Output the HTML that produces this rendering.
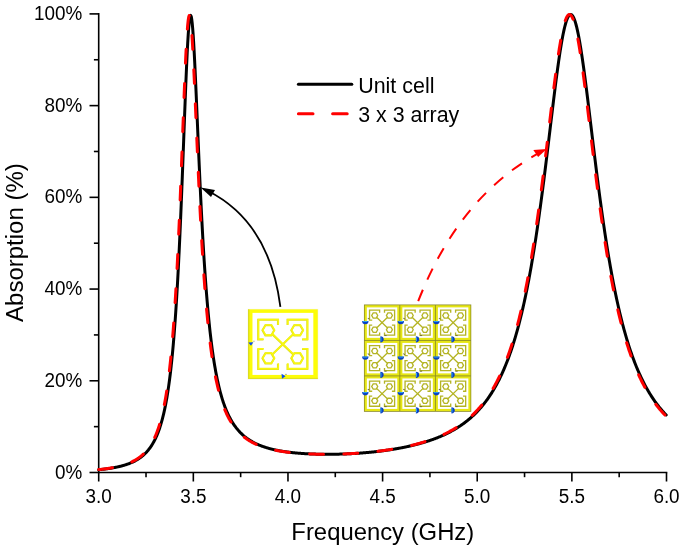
<!DOCTYPE html>
<html><head><meta charset="utf-8"><title>Absorption</title>
<style>
html,body{margin:0;padding:0;background:#fff;}
body{width:685px;height:551px;overflow:hidden;}
svg{display:block;will-change:transform;}
text{font-family:"Liberation Sans",sans-serif;fill:#000;}
</style></head><body>
<svg width="685" height="551" viewBox="0 0 685 551">
<rect width="685" height="551" fill="#fff"/>
<g stroke="#000" stroke-width="1.6" fill="none" stroke-linecap="butt">
<path d="M98.7,13.1 V473.3"/>
<path d="M97.9,472.5 H667.3"/>
<path d="M89.50,472.50 H98.7"/>
<path d="M93.90,426.64 H98.7"/>
<path d="M89.50,380.78 H98.7"/>
<path d="M93.90,334.92 H98.7"/>
<path d="M89.50,289.06 H98.7"/>
<path d="M93.90,243.20 H98.7"/>
<path d="M89.50,197.34 H98.7"/>
<path d="M93.90,151.48 H98.7"/>
<path d="M89.50,105.62 H98.7"/>
<path d="M93.90,59.76 H98.7"/>
<path d="M89.50,13.90 H98.7"/>
<path d="M98.70,472.5 V481.50"/>
<path d="M146.02,472.5 V477.20"/>
<path d="M193.33,472.5 V481.50"/>
<path d="M240.65,472.5 V477.20"/>
<path d="M287.97,472.5 V481.50"/>
<path d="M335.28,472.5 V477.20"/>
<path d="M382.60,472.5 V481.50"/>
<path d="M429.92,472.5 V477.20"/>
<path d="M477.23,472.5 V481.50"/>
<path d="M524.55,472.5 V477.20"/>
<path d="M571.87,472.5 V481.50"/>
<path d="M619.18,472.5 V477.20"/>
<path d="M666.50,472.5 V481.50"/>
</g>
<g font-size="18.9" text-anchor="end">
<text transform="translate(82.4,478.50) scale(1,1.05)">0%</text>
<text transform="translate(82.4,386.78) scale(1,1.05)">20%</text>
<text transform="translate(82.4,295.06) scale(1,1.05)">40%</text>
<text transform="translate(82.4,203.34) scale(1,1.05)">60%</text>
<text transform="translate(82.4,111.62) scale(1,1.05)">80%</text>
<text transform="translate(82.4,19.90) scale(1,1.05)">100%</text>
</g>
<g font-size="18.9" text-anchor="middle">
<text transform="translate(98.70,503.1) scale(1,1.045)">3.0</text>
<text transform="translate(193.33,503.1) scale(1,1.045)">3.5</text>
<text transform="translate(287.97,503.1) scale(1,1.045)">4.0</text>
<text transform="translate(382.60,503.1) scale(1,1.045)">4.5</text>
<text transform="translate(477.23,503.1) scale(1,1.045)">5.0</text>
<text transform="translate(571.87,503.1) scale(1,1.045)">5.5</text>
<text transform="translate(666.50,503.1) scale(1,1.045)">6.0</text>
</g>
<text transform="translate(382.8,539.7) scale(1,1.035)" font-size="23.85" text-anchor="middle">Frequency (GHz)</text>
<text transform="translate(23.3,242.6) rotate(-90) scale(1,1.035)" font-size="24" text-anchor="middle">Absorption (%)</text>
<path d="M98.70,469.73 L99.20,469.68 L99.70,469.63 L100.20,469.58 L100.70,469.53 L101.20,469.48 L101.70,469.42 L102.20,469.37 L102.70,469.31 L103.20,469.25 L103.70,469.20 L104.20,469.14 L104.70,469.07 L105.20,469.01 L105.70,468.95 L106.20,468.88 L106.70,468.82 L107.20,468.75 L107.70,468.68 L108.20,468.61 L108.70,468.54 L109.20,468.46 L109.70,468.39 L110.20,468.31 L110.70,468.23 L111.20,468.15 L111.70,468.07 L112.20,467.98 L112.70,467.89 L113.20,467.81 L113.70,467.72 L114.20,467.62 L114.70,467.53 L115.20,467.43 L115.70,467.33 L116.20,467.23 L116.70,467.13 L117.20,467.02 L117.70,466.91 L118.20,466.80 L118.70,466.69 L119.20,466.57 L119.70,466.45 L120.20,466.33 L120.70,466.21 L121.20,466.08 L121.70,465.95 L122.20,465.81 L122.70,465.67 L123.20,465.53 L123.70,465.39 L124.20,465.24 L124.70,465.09 L125.20,464.93 L125.70,464.77 L126.20,464.61 L126.70,464.44 L127.20,464.27 L127.70,464.09 L128.20,463.91 L128.70,463.73 L129.20,463.54 L129.70,463.34 L130.20,463.14 L130.70,462.93 L131.20,462.72 L131.70,462.50 L132.20,462.28 L132.70,462.05 L133.20,461.81 L133.70,461.57 L134.20,461.32 L134.70,461.06 L135.20,460.80 L135.70,460.53 L136.20,460.25 L136.70,459.96 L137.20,459.66 L137.70,459.36 L138.20,459.05 L138.70,458.72 L139.20,458.39 L139.70,458.04 L140.20,457.69 L140.70,457.33 L141.20,456.95 L141.70,456.56 L142.20,456.16 L142.70,455.75 L143.20,455.32 L143.70,454.88 L144.20,454.42 L144.70,453.95 L145.20,453.46 L145.70,452.96 L146.20,452.44 L146.70,451.90 L147.20,451.35 L147.70,450.77 L148.20,450.18 L148.70,449.56 L149.20,448.92 L149.70,448.26 L150.20,447.57 L150.70,446.86 L151.20,446.12 L151.70,445.35 L152.20,444.55 L152.70,443.73 L153.20,442.87 L153.70,441.98 L154.20,441.05 L154.70,440.08 L155.20,439.08 L155.70,438.04 L156.20,436.95 L156.70,435.82 L157.20,434.64 L157.70,433.41 L158.20,432.12 L158.70,430.78 L159.20,429.39 L159.70,427.93 L160.20,426.40 L160.70,424.81 L161.20,423.15 L161.70,421.40 L162.20,419.58 L162.70,417.67 L163.20,415.67 L163.70,413.57 L164.20,411.38 L164.70,409.07 L165.20,406.65 L165.70,404.11 L166.20,401.44 L166.70,398.64 L167.20,395.69 L167.70,392.59 L168.20,389.33 L168.70,385.89 L169.20,382.27 L169.70,378.46 L170.20,374.44 L170.70,370.21 L171.20,365.74 L171.70,361.03 L172.20,356.06 L172.70,350.81 L173.20,345.27 L173.70,339.43 L174.20,333.26 L174.70,326.75 L175.20,319.89 L175.70,312.64 L176.20,305.01 L176.70,296.96 L177.20,288.50 L177.70,279.59 L178.20,270.24 L178.70,260.43 L179.20,250.15 L179.70,239.42 L180.20,228.23 L180.70,216.60 L181.20,204.55 L181.70,192.11 L182.20,179.33 L182.70,166.26 L183.20,152.98 L183.70,139.58 L184.20,126.15 L184.70,112.81 L185.20,99.71 L185.70,86.99 L186.20,74.80 L186.70,63.33 L187.20,52.73 L187.70,43.18 L188.20,34.84 L188.70,27.85 L189.20,22.33 L189.70,18.38 L190.20,16.06 L190.70,15.39 L191.20,16.37 L191.70,18.96 L192.20,23.06 L192.70,28.59 L193.20,35.41 L193.70,43.38 L194.20,52.35 L194.70,62.15 L195.20,72.62 L195.70,83.63 L196.20,95.01 L196.70,106.64 L197.20,118.41 L197.70,130.20 L198.20,141.93 L198.70,153.52 L199.20,164.91 L199.70,176.05 L200.20,186.89 L200.70,197.42 L201.20,207.60 L201.70,217.42 L202.20,226.88 L202.70,235.96 L203.20,244.68 L203.70,253.03 L204.20,261.01 L204.70,268.65 L205.20,275.95 L205.70,282.92 L206.20,289.57 L206.70,295.91 L207.20,301.97 L207.70,307.74 L208.20,313.25 L208.70,318.50 L209.20,323.51 L209.70,328.29 L210.20,332.85 L210.70,337.20 L211.20,341.36 L211.70,345.33 L212.20,349.12 L212.70,352.74 L213.20,356.20 L213.70,359.52 L214.20,362.68 L214.70,365.72 L215.20,368.62 L215.70,371.40 L216.20,374.06 L216.70,376.61 L217.20,379.06 L217.70,381.41 L218.20,383.67 L218.70,385.83 L219.20,387.91 L219.70,389.91 L220.20,391.83 L220.70,393.67 L221.20,395.45 L221.70,397.16 L222.20,398.81 L222.70,400.39 L223.20,401.92 L223.70,403.39 L224.20,404.81 L224.70,406.18 L225.20,407.51 L225.70,408.78 L226.20,410.01 L226.70,411.21 L227.20,412.36 L227.70,413.47 L228.20,414.54 L228.70,415.58 L229.20,416.59 L229.70,417.56 L230.20,418.51 L230.70,419.42 L231.20,420.31 L231.70,421.16 L232.20,421.99 L232.70,422.80 L233.20,423.58 L233.70,424.34 L234.20,425.08 L234.70,425.79 L235.20,426.48 L235.70,427.16 L236.20,427.81 L236.70,428.45 L237.20,429.06 L237.70,429.66 L238.20,430.25 L238.70,430.81 L239.20,431.37 L239.70,431.90 L240.20,432.43 L240.70,432.94 L241.20,433.43 L241.70,433.91 L242.20,434.38 L242.70,434.84 L243.20,435.29 L243.70,435.72 L244.20,436.14 L244.70,436.56 L245.20,436.96 L245.70,437.35 L246.20,437.73 L246.70,438.11 L247.20,438.47 L247.70,438.83 L248.20,439.17 L248.70,439.51 L249.20,439.84 L249.70,440.16 L250.20,440.48 L250.70,440.79 L251.20,441.09 L251.70,441.38 L252.20,441.67 L252.70,441.95 L253.20,442.22 L253.70,442.49 L254.20,442.75 L254.70,443.01 L255.20,443.26 L255.70,443.50 L256.20,443.74 L256.70,443.98 L257.20,444.21 L257.70,444.43 L258.20,444.65 L258.70,444.86 L259.20,445.07 L259.70,445.28 L260.20,445.48 L260.70,445.68 L261.20,445.87 L261.70,446.06 L262.20,446.24 L262.70,446.42 L263.20,446.60 L263.70,446.77 L264.20,446.94 L264.70,447.11 L265.20,447.27 L265.70,447.43 L266.20,447.59 L266.70,447.74 L267.20,447.89 L267.70,448.04 L268.20,448.18 L268.70,448.32 L269.20,448.46 L269.70,448.60 L270.20,448.73 L270.70,448.86 L271.20,448.99 L271.70,449.11 L272.20,449.23 L272.70,449.36 L273.20,449.47 L273.70,449.59 L274.20,449.70 L274.70,449.81 L275.20,449.92 L275.70,450.03 L276.20,450.13 L276.70,450.24 L277.20,450.34 L277.70,450.43 L278.20,450.53 L278.70,450.63 L279.20,450.72 L279.70,450.81 L280.20,450.90 L280.70,450.99 L281.20,451.07 L281.70,451.16 L282.20,451.24 L282.70,451.32 L283.20,451.40 L283.70,451.48 L284.20,451.55 L284.70,451.63 L285.20,451.70 L285.70,451.77 L286.20,451.84 L286.70,451.91 L287.20,451.98 L287.70,452.05 L288.20,452.11 L288.70,452.17 L289.20,452.24 L289.70,452.30 L290.20,452.36 L290.70,452.42 L291.20,452.47 L291.70,452.53 L292.20,452.58 L292.70,452.64 L293.20,452.69 L293.70,452.74 L294.20,452.79 L294.70,452.84 L295.20,452.89 L295.70,452.94 L296.20,452.99 L296.70,453.03 L297.20,453.07 L297.70,453.12 L298.20,453.16 L298.70,453.20 L299.20,453.24 L299.70,453.28 L300.20,453.32 L300.70,453.36 L301.20,453.40 L301.70,453.43 L302.20,453.47 L302.70,453.50 L303.20,453.53 L303.70,453.57 L304.20,453.60 L304.70,453.63 L305.20,453.66 L305.70,453.69 L306.20,453.72 L306.70,453.74 L307.20,453.77 L307.70,453.80 L308.20,453.82 L308.70,453.85 L309.20,453.87 L309.70,453.89 L310.20,453.92 L310.70,453.94 L311.20,453.96 L311.70,453.98 L312.20,454.00 L312.70,454.02 L313.20,454.04 L313.70,454.05 L314.20,454.07 L314.70,454.09 L315.20,454.10 L315.70,454.12 L316.20,454.13 L316.70,454.15 L317.20,454.16 L317.70,454.17 L318.20,454.18 L318.70,454.19 L319.20,454.20 L319.70,454.21 L320.20,454.22 L320.70,454.23 L321.20,454.24 L321.70,454.25 L322.20,454.25 L322.70,454.26 L323.20,454.26 L323.70,454.27 L324.20,454.27 L324.70,454.28 L325.20,454.28 L325.70,454.28 L326.20,454.29 L326.70,454.29 L327.20,454.29 L327.70,454.29 L328.20,454.29 L328.70,454.29 L329.20,454.29 L329.70,454.28 L330.20,454.28 L330.70,454.28 L331.20,454.27 L331.70,454.27 L332.20,454.26 L332.70,454.26 L333.20,454.25 L333.70,454.25 L334.20,454.24 L334.70,454.23 L335.20,454.22 L335.70,454.21 L336.20,454.21 L336.70,454.20 L337.20,454.19 L337.70,454.17 L338.20,454.16 L338.70,454.15 L339.20,454.14 L339.70,454.12 L340.20,454.11 L340.70,454.10 L341.20,454.08 L341.70,454.07 L342.20,454.05 L342.70,454.03 L343.20,454.02 L343.70,454.00 L344.20,453.98 L344.70,453.96 L345.20,453.94 L345.70,453.92 L346.20,453.90 L346.70,453.88 L347.20,453.86 L347.70,453.84 L348.20,453.82 L348.70,453.79 L349.20,453.77 L349.70,453.74 L350.20,453.72 L350.70,453.69 L351.20,453.67 L351.70,453.64 L352.20,453.61 L352.70,453.59 L353.20,453.56 L353.70,453.53 L354.20,453.50 L354.70,453.47 L355.20,453.44 L355.70,453.41 L356.20,453.38 L356.70,453.34 L357.20,453.31 L357.70,453.28 L358.20,453.24 L358.70,453.21 L359.20,453.17 L359.70,453.14 L360.20,453.10 L360.70,453.07 L361.20,453.03 L361.70,452.99 L362.20,452.95 L362.70,452.91 L363.20,452.87 L363.70,452.83 L364.20,452.79 L364.70,452.75 L365.20,452.71 L365.70,452.66 L366.20,452.62 L366.70,452.58 L367.20,452.53 L367.70,452.48 L368.20,452.44 L368.70,452.39 L369.20,452.34 L369.70,452.30 L370.20,452.25 L370.70,452.20 L371.20,452.15 L371.70,452.10 L372.20,452.05 L372.70,452.00 L373.20,451.94 L373.70,451.89 L374.20,451.84 L374.70,451.78 L375.20,451.73 L375.70,451.67 L376.20,451.61 L376.70,451.56 L377.20,451.50 L377.70,451.44 L378.20,451.38 L378.70,451.32 L379.20,451.26 L379.70,451.20 L380.20,451.14 L380.70,451.08 L381.20,451.01 L381.70,450.95 L382.20,450.88 L382.70,450.82 L383.20,450.75 L383.70,450.69 L384.20,450.62 L384.70,450.55 L385.20,450.48 L385.70,450.41 L386.20,450.34 L386.70,450.27 L387.20,450.20 L387.70,450.12 L388.20,450.05 L388.70,449.98 L389.20,449.90 L389.70,449.83 L390.20,449.75 L390.70,449.67 L391.20,449.59 L391.70,449.51 L392.20,449.43 L392.70,449.35 L393.20,449.27 L393.70,449.19 L394.20,449.11 L394.70,449.02 L395.20,448.94 L395.70,448.85 L396.20,448.77 L396.70,448.68 L397.20,448.59 L397.70,448.50 L398.20,448.41 L398.70,448.32 L399.20,448.23 L399.70,448.14 L400.20,448.04 L400.70,447.95 L401.20,447.85 L401.70,447.76 L402.20,447.66 L402.70,447.56 L403.20,447.46 L403.70,447.36 L404.20,447.26 L404.70,447.16 L405.20,447.06 L405.70,446.95 L406.20,446.85 L406.70,446.74 L407.20,446.63 L407.70,446.52 L408.20,446.42 L408.70,446.31 L409.20,446.19 L409.70,446.08 L410.20,445.97 L410.70,445.85 L411.20,445.74 L411.70,445.62 L412.20,445.50 L412.70,445.38 L413.20,445.26 L413.70,445.14 L414.20,445.02 L414.70,444.89 L415.20,444.77 L415.70,444.64 L416.20,444.51 L416.70,444.38 L417.20,444.25 L417.70,444.12 L418.20,443.99 L418.70,443.85 L419.20,443.72 L419.70,443.58 L420.20,443.44 L420.70,443.30 L421.20,443.16 L421.70,443.02 L422.20,442.88 L422.70,442.73 L423.20,442.58 L423.70,442.43 L424.20,442.28 L424.70,442.13 L425.20,441.98 L425.70,441.83 L426.20,441.67 L426.70,441.51 L427.20,441.35 L427.70,441.19 L428.20,441.03 L428.70,440.86 L429.20,440.70 L429.70,440.53 L430.20,440.36 L430.70,440.19 L431.20,440.02 L431.70,439.84 L432.20,439.66 L432.70,439.49 L433.20,439.31 L433.70,439.12 L434.20,438.94 L434.70,438.75 L435.20,438.56 L435.70,438.37 L436.20,438.18 L436.70,437.99 L437.20,437.79 L437.70,437.59 L438.20,437.39 L438.70,437.19 L439.20,436.98 L439.70,436.78 L440.20,436.57 L440.70,436.35 L441.20,436.14 L441.70,435.92 L442.20,435.70 L442.70,435.48 L443.20,435.26 L443.70,435.03 L444.20,434.80 L444.70,434.57 L445.20,434.33 L445.70,434.10 L446.20,433.86 L446.70,433.62 L447.20,433.37 L447.70,433.12 L448.20,432.87 L448.70,432.62 L449.20,432.36 L449.70,432.10 L450.20,431.84 L450.70,431.57 L451.20,431.30 L451.70,431.03 L452.20,430.76 L452.70,430.48 L453.20,430.20 L453.70,429.91 L454.20,429.62 L454.70,429.33 L455.20,429.03 L455.70,428.74 L456.20,428.43 L456.70,428.13 L457.20,427.82 L457.70,427.50 L458.20,427.18 L458.70,426.86 L459.20,426.54 L459.70,426.21 L460.20,425.87 L460.70,425.54 L461.20,425.19 L461.70,424.85 L462.20,424.50 L462.70,424.14 L463.20,423.78 L463.70,423.42 L464.20,423.05 L464.70,422.68 L465.20,422.30 L465.70,421.92 L466.20,421.53 L466.70,421.14 L467.20,420.74 L467.70,420.34 L468.20,419.93 L468.70,419.51 L469.20,419.09 L469.70,418.67 L470.20,418.24 L470.70,417.80 L471.20,417.36 L471.70,416.91 L472.20,416.46 L472.70,416.00 L473.20,415.54 L473.70,415.06 L474.20,414.59 L474.70,414.10 L475.20,413.61 L475.70,413.11 L476.20,412.61 L476.70,412.09 L477.20,411.58 L477.70,411.05 L478.20,410.52 L478.70,409.97 L479.20,409.43 L479.70,408.87 L480.20,408.31 L480.70,407.73 L481.20,407.15 L481.70,406.57 L482.20,405.97 L482.70,405.36 L483.20,404.75 L483.70,404.13 L484.20,403.50 L484.70,402.86 L485.20,402.21 L485.70,401.55 L486.20,400.88 L486.70,400.20 L487.20,399.51 L487.70,398.81 L488.20,398.10 L488.70,397.38 L489.20,396.65 L489.70,395.91 L490.20,395.16 L490.70,394.39 L491.20,393.62 L491.70,392.83 L492.20,392.03 L492.70,391.22 L493.20,390.40 L493.70,389.56 L494.20,388.71 L494.70,387.85 L495.20,386.98 L495.70,386.09 L496.20,385.18 L496.70,384.27 L497.20,383.34 L497.70,382.39 L498.20,381.43 L498.70,380.45 L499.20,379.46 L499.70,378.46 L500.20,377.43 L500.70,376.39 L501.20,375.34 L501.70,374.26 L502.20,373.17 L502.70,372.07 L503.20,370.94 L503.70,369.80 L504.20,368.64 L504.70,367.45 L505.20,366.25 L505.70,365.03 L506.20,363.79 L506.70,362.53 L507.20,361.25 L507.70,359.95 L508.20,358.63 L508.70,357.28 L509.20,355.91 L509.70,354.52 L510.20,353.11 L510.70,351.67 L511.20,350.21 L511.70,348.72 L512.20,347.21 L512.70,345.67 L513.20,344.11 L513.70,342.52 L514.20,340.91 L514.70,339.27 L515.20,337.59 L515.70,335.90 L516.20,334.17 L516.70,332.41 L517.20,330.63 L517.70,328.81 L518.20,326.96 L518.70,325.08 L519.20,323.17 L519.70,321.23 L520.20,319.25 L520.70,317.24 L521.20,315.20 L521.70,313.12 L522.20,311.01 L522.70,308.86 L523.20,306.68 L523.70,304.46 L524.20,302.20 L524.70,299.90 L525.20,297.57 L525.70,295.19 L526.20,292.78 L526.70,290.33 L527.20,287.84 L527.70,285.30 L528.20,282.73 L528.70,280.11 L529.20,277.46 L529.70,274.75 L530.20,272.01 L530.70,269.22 L531.20,266.39 L531.70,263.52 L532.20,260.60 L532.70,257.63 L533.20,254.62 L533.70,251.57 L534.20,248.47 L534.70,245.33 L535.20,242.13 L535.70,238.90 L536.20,235.62 L536.70,232.29 L537.20,228.92 L537.70,225.50 L538.20,222.04 L538.70,218.54 L539.20,214.99 L539.70,211.39 L540.20,207.76 L540.70,204.08 L541.20,200.36 L541.70,196.61 L542.20,192.81 L542.70,188.97 L543.20,185.10 L543.70,181.19 L544.20,177.25 L544.70,173.28 L545.20,169.27 L545.70,165.24 L546.20,161.18 L546.70,157.10 L547.20,153.00 L547.70,148.88 L548.20,144.74 L548.70,140.59 L549.20,136.43 L549.70,132.26 L550.20,128.09 L550.70,123.92 L551.20,119.75 L551.70,115.59 L552.20,111.45 L552.70,107.32 L553.20,103.21 L553.70,99.13 L554.20,95.08 L554.70,91.07 L555.20,87.10 L555.70,83.17 L556.20,79.30 L556.70,75.48 L557.20,71.73 L557.70,68.05 L558.20,64.44 L558.70,60.91 L559.20,57.47 L559.70,54.12 L560.20,50.87 L560.70,47.72 L561.20,44.69 L561.70,41.77 L562.20,38.97 L562.70,36.30 L563.20,33.76 L563.70,31.36 L564.20,29.10 L564.70,26.99 L565.20,25.04 L565.70,23.23 L566.20,21.59 L566.70,20.11 L567.20,18.80 L567.70,17.66 L568.20,16.70 L568.70,15.90 L569.20,15.29 L569.70,14.85 L570.20,14.59 L570.70,14.52 L571.20,14.62 L571.70,14.90 L572.20,15.36 L572.70,16.00 L573.20,16.81 L573.70,17.80 L574.20,18.96 L574.70,20.29 L575.20,21.78 L575.70,23.44 L576.20,25.26 L576.70,27.23 L577.20,29.35 L577.70,31.62 L578.20,34.03 L578.70,36.58 L579.20,39.25 L579.70,42.05 L580.20,44.98 L580.70,48.01 L581.20,51.15 L581.70,54.40 L582.20,57.74 L582.70,61.18 L583.20,64.70 L583.70,68.30 L584.20,71.97 L584.70,75.71 L585.20,79.51 L585.70,83.37 L586.20,87.27 L586.70,91.23 L587.20,95.22 L587.70,99.25 L588.20,103.31 L588.70,107.39 L589.20,111.50 L589.70,115.62 L590.20,119.75 L590.70,123.89 L591.20,128.04 L591.70,132.18 L592.20,136.32 L592.70,140.46 L593.20,144.59 L593.70,148.70 L594.20,152.79 L594.70,156.87 L595.20,160.93 L595.70,164.96 L596.20,168.97 L596.70,172.94 L597.20,176.89 L597.70,180.81 L598.20,184.70 L598.70,188.55 L599.20,192.36 L599.70,196.14 L600.20,199.87 L600.70,203.57 L601.20,207.23 L601.70,210.85 L602.20,214.42 L602.70,217.96 L603.20,221.45 L603.70,224.89 L604.20,228.30 L604.70,231.66 L605.20,234.97 L605.70,238.24 L606.20,241.47 L606.70,244.65 L607.20,247.78 L607.70,250.88 L608.20,253.92 L608.70,256.93 L609.20,259.89 L609.70,262.80 L610.20,265.67 L610.70,268.50 L611.20,271.29 L611.70,274.03 L612.20,276.73 L612.70,279.39 L613.20,282.01 L613.70,284.59 L614.20,287.13 L614.70,289.62 L615.20,292.08 L615.70,294.50 L616.20,296.88 L616.70,299.22 L617.20,301.52 L617.70,303.79 L618.20,306.02 L618.70,308.21 L619.20,310.37 L619.70,312.50 L620.20,314.58 L620.70,316.64 L621.20,318.66 L621.70,320.65 L622.20,322.61 L622.70,324.53 L623.20,326.42 L623.70,328.29 L624.20,330.12 L624.70,331.92 L625.20,333.69 L625.70,335.44 L626.20,337.15 L626.70,338.84 L627.20,340.50 L627.70,342.14 L628.20,343.74 L628.70,345.33 L629.20,346.88 L629.70,348.41 L630.20,349.92 L630.70,351.40 L631.20,352.86 L631.70,354.29 L632.20,355.70 L632.70,357.09 L633.20,358.46 L633.70,359.81 L634.20,361.13 L634.70,362.43 L635.20,363.72 L635.70,364.98 L636.20,366.22 L636.70,367.45 L637.20,368.65 L637.70,369.84 L638.20,371.00 L638.70,372.15 L639.20,373.28 L639.70,374.40 L640.20,375.49 L640.70,376.57 L641.20,377.64 L641.70,378.68 L642.20,379.71 L642.70,380.73 L643.20,381.73 L643.70,382.71 L644.20,383.68 L644.70,384.64 L645.20,385.58 L645.70,386.51 L646.20,387.42 L646.70,388.32 L647.20,389.21 L647.70,390.08 L648.20,390.94 L648.70,391.79 L649.20,392.63 L649.70,393.45 L650.20,394.27 L650.70,395.07 L651.20,395.85 L651.70,396.63 L652.20,397.40 L652.70,398.15 L653.20,398.90 L653.70,399.63 L654.20,400.36 L654.70,401.07 L655.20,401.77 L655.70,402.47 L656.20,403.15 L656.70,403.83 L657.20,404.49 L657.70,405.15 L658.20,405.79 L658.70,406.43 L659.20,407.06 L659.70,407.68 L660.20,408.29 L660.70,408.90 L661.20,409.49 L661.70,410.08 L662.20,410.66 L662.70,411.23 L663.20,411.80 L663.70,412.36 L664.20,412.91 L664.70,413.45 L665.20,413.98 L665.70,414.51 L666.20,415.03" fill="none" stroke="#000" stroke-width="3.0" stroke-linejoin="round" stroke-linecap="round"/>
<path d="M98.70,469.60 L99.20,469.55 L99.70,469.50 L100.20,469.45 L100.70,469.39 L101.20,469.34 L101.70,469.28 L102.20,469.22 L102.70,469.17 L103.20,469.11 L103.70,469.04 L104.20,468.98 L104.70,468.92 L105.20,468.85 L105.70,468.78 L106.20,468.71 L106.70,468.64 L107.20,468.57 L107.70,468.50 L108.20,468.42 L108.70,468.35 L109.20,468.27 L109.70,468.19 L110.20,468.11 L110.70,468.02 L111.20,467.94 L111.70,467.85 L112.20,467.76 L112.70,467.67 L113.20,467.58 L113.70,467.48 L114.20,467.38 L114.70,467.28 L115.20,467.18 L115.70,467.08 L116.20,466.97 L116.70,466.86 L117.20,466.75 L117.70,466.63 L118.20,466.51 L118.70,466.39 L119.20,466.27 L119.70,466.14 L120.20,466.01 L120.70,465.88 L121.20,465.74 L121.70,465.60 L122.20,465.46 L122.70,465.32 L123.20,465.17 L123.70,465.01 L124.20,464.85 L124.70,464.69 L125.20,464.53 L125.70,464.36 L126.20,464.18 L126.70,464.00 L127.20,463.82 L127.70,463.63 L128.20,463.44 L128.70,463.24 L129.20,463.04 L129.70,462.83 L130.20,462.61 L130.70,462.39 L131.20,462.17 L131.70,461.93 L132.20,461.69 L132.70,461.45 L133.20,461.19 L133.70,460.93 L134.20,460.67 L134.70,460.39 L135.20,460.11 L135.70,459.81 L136.20,459.51 L136.70,459.20 L137.20,458.88 L137.70,458.56 L138.20,458.22 L138.70,457.87 L139.20,457.51 L139.70,457.14 L140.20,456.76 L140.70,456.36 L141.20,455.95 L141.70,455.53 L142.20,455.10 L142.70,454.65 L143.20,454.19 L143.70,453.71 L144.20,453.22 L144.70,452.70 L145.20,452.18 L145.70,451.63 L146.20,451.06 L146.70,450.48 L147.20,449.87 L147.70,449.24 L148.20,448.59 L148.70,447.92 L149.20,447.22 L149.70,446.49 L150.20,445.74 L150.70,444.96 L151.20,444.14 L151.70,443.30 L152.20,442.43 L152.70,441.52 L153.20,440.57 L153.70,439.59 L154.20,438.56 L154.70,437.50 L155.20,436.39 L155.70,435.23 L156.20,434.03 L156.70,432.77 L157.20,431.46 L157.70,430.09 L158.20,428.67 L158.70,427.17 L159.20,425.62 L159.70,423.99 L160.20,422.28 L160.70,420.50 L161.20,418.64 L161.70,416.68 L162.20,414.63 L162.70,412.49 L163.20,410.24 L163.70,407.88 L164.20,405.40 L164.70,402.79 L165.20,400.06 L165.70,397.18 L166.20,394.16 L166.70,390.98 L167.20,387.63 L167.70,384.11 L168.20,380.39 L168.70,376.48 L169.20,372.35 L169.70,368.00 L170.20,363.42 L170.70,358.58 L171.20,353.47 L171.70,348.08 L172.20,342.39 L172.70,336.39 L173.20,330.05 L173.70,323.37 L174.20,316.31 L174.70,308.88 L175.20,301.04 L175.70,292.78 L176.20,284.10 L176.70,274.97 L177.20,265.39 L177.70,255.35 L178.20,244.84 L178.70,233.88 L179.20,222.47 L179.70,210.62 L180.20,198.37 L180.70,185.76 L181.20,172.83 L181.70,159.65 L182.20,146.29 L182.70,132.86 L183.20,119.46 L183.70,106.22 L184.20,93.29 L184.70,80.82 L185.20,68.97 L185.70,57.91 L186.20,47.82 L186.70,38.85 L187.20,31.17 L187.70,24.90 L188.20,20.16 L188.70,17.02 L189.20,15.52 L189.70,15.68 L190.20,17.47 L190.70,20.82 L191.20,25.66 L191.70,31.85 L192.20,39.26 L192.70,47.75 L193.20,57.15 L193.70,67.31 L194.20,78.07 L194.70,89.28 L195.20,100.80 L195.70,112.51 L196.20,124.30 L196.70,136.08 L197.20,147.75 L197.70,159.24 L198.20,170.51 L198.70,181.51 L199.20,192.20 L199.70,202.55 L200.20,212.56 L200.70,222.20 L201.20,231.47 L201.70,240.37 L202.20,248.90 L202.70,257.06 L203.20,264.88 L203.70,272.34 L204.20,279.47 L204.70,286.28 L205.20,292.78 L205.70,298.98 L206.20,304.89 L206.70,310.53 L207.20,315.90 L207.70,321.03 L208.20,325.93 L208.70,330.60 L209.20,335.05 L209.70,339.31 L210.20,343.37 L210.70,347.24 L211.20,350.95 L211.70,354.49 L212.20,357.88 L212.70,361.12 L213.20,364.22 L213.70,367.18 L214.20,370.02 L214.70,372.74 L215.20,375.35 L215.70,377.85 L216.20,380.25 L216.70,382.55 L217.20,384.76 L217.70,386.88 L218.20,388.92 L218.70,390.88 L219.20,392.76 L219.70,394.57 L220.20,396.31 L220.70,397.99 L221.20,399.61 L221.70,401.16 L222.20,402.66 L222.70,404.11 L223.20,405.50 L223.70,406.85 L224.20,408.15 L224.70,409.40 L225.20,410.61 L225.70,411.78 L226.20,412.92 L226.70,414.01 L227.20,415.07 L227.70,416.09 L228.20,417.08 L228.70,418.04 L229.20,418.97 L229.70,419.87 L230.20,420.74 L230.70,421.58 L231.20,422.40 L231.70,423.19 L232.20,423.96 L232.70,424.71 L233.20,425.43 L233.70,426.14 L234.20,426.82 L234.70,427.49 L235.20,428.13 L235.70,428.76 L236.20,429.36 L236.70,429.96 L237.20,430.53 L237.70,431.09 L238.20,431.64 L238.70,432.17 L239.20,432.68 L239.70,433.18 L240.20,433.67 L240.70,434.15 L241.20,434.61 L241.70,435.06 L242.20,435.50 L242.70,435.93 L243.20,436.35 L243.70,436.76 L244.20,437.15 L244.70,437.54 L245.20,437.92 L245.70,438.29 L246.20,438.65 L246.70,439.00 L247.20,439.34 L247.70,439.68 L248.20,440.00 L248.70,440.32 L249.20,440.63 L249.70,440.94 L250.20,441.23 L250.70,441.52 L251.20,441.81 L251.70,442.09 L252.20,442.36 L252.70,442.62 L253.20,442.88 L253.70,443.13 L254.20,443.38 L254.70,443.62 L255.20,443.86 L255.70,444.09 L256.20,444.32 L256.70,444.54 L257.20,444.75 L257.70,444.97 L258.20,445.17 L258.70,445.38 L259.20,445.58 L259.70,445.77 L260.20,445.96 L260.70,446.15 L261.20,446.33 L261.70,446.51 L262.20,446.68 L262.70,446.86 L263.20,447.02 L263.70,447.19 L264.20,447.35 L264.70,447.51 L265.20,447.66 L265.70,447.81 L266.20,447.96 L266.70,448.11 L267.20,448.25 L267.70,448.39 L268.20,448.53 L268.70,448.66 L269.20,448.79 L269.70,448.92 L270.20,449.05 L270.70,449.17 L271.20,449.29 L271.70,449.41 L272.20,449.53 L272.70,449.64 L273.20,449.75 L273.70,449.86 L274.20,449.97 L274.70,450.08 L275.20,450.18 L275.70,450.28 L276.20,450.38 L276.70,450.48 L277.20,450.57 L277.70,450.67 L278.20,450.76 L278.70,450.85 L279.20,450.94 L279.70,451.02 L280.20,451.11 L280.70,451.19 L281.20,451.27 L281.70,451.35 L282.20,451.43 L282.70,451.51 L283.20,451.59 L283.70,451.66 L284.20,451.73 L284.70,451.80 L285.20,451.87 L285.70,451.94 L286.20,452.01 L286.70,452.07 L287.20,452.14 L287.70,452.20 L288.20,452.26 L288.70,452.32 L289.20,452.38 L289.70,452.44 L290.20,452.50 L290.70,452.55 L291.20,452.61 L291.70,452.66 L292.20,452.71 L292.70,452.76 L293.20,452.81 L293.70,452.86 L294.20,452.91 L294.70,452.96 L295.20,453.00 L295.70,453.05 L296.20,453.09 L296.70,453.13 L297.20,453.17 L297.70,453.21 L298.20,453.25 L298.70,453.29 L299.20,453.33 L299.70,453.37 L300.20,453.41 L300.70,453.44 L301.20,453.48 L301.70,453.51 L302.20,453.54 L302.70,453.57 L303.20,453.61 L303.70,453.64 L304.20,453.67 L304.70,453.69 L305.20,453.72 L305.70,453.75 L306.20,453.78 L306.70,453.80 L307.20,453.83 L307.70,453.85 L308.20,453.87 L308.70,453.90 L309.20,453.92 L309.70,453.94 L310.20,453.96 L310.70,453.98 L311.20,454.00 L311.70,454.02 L312.20,454.04 L312.70,454.05 L313.20,454.07 L313.70,454.09 L314.20,454.10 L314.70,454.12 L315.20,454.13 L315.70,454.14 L316.20,454.16 L316.70,454.17 L317.20,454.18 L317.70,454.19 L318.20,454.20 L318.70,454.21 L319.20,454.22 L319.70,454.23 L320.20,454.23 L320.70,454.24 L321.20,454.25 L321.70,454.25 L322.20,454.26 L322.70,454.26 L323.20,454.27 L323.70,454.27 L324.20,454.27 L324.70,454.28 L325.20,454.28 L325.70,454.28 L326.20,454.28 L326.70,454.28 L327.20,454.28 L327.70,454.28 L328.20,454.28 L328.70,454.27 L329.20,454.27 L329.70,454.27 L330.20,454.26 L330.70,454.26 L331.20,454.25 L331.70,454.25 L332.20,454.24 L332.70,454.24 L333.20,454.23 L333.70,454.22 L334.20,454.21 L334.70,454.20 L335.20,454.19 L335.70,454.18 L336.20,454.17 L336.70,454.16 L337.20,454.15 L337.70,454.14 L338.20,454.13 L338.70,454.11 L339.20,454.10 L339.70,454.08 L340.20,454.07 L340.70,454.05 L341.20,454.04 L341.70,454.02 L342.20,454.00 L342.70,453.99 L343.20,453.97 L343.70,453.95 L344.20,453.93 L344.70,453.91 L345.20,453.89 L345.70,453.87 L346.20,453.85 L346.70,453.82 L347.20,453.80 L347.70,453.78 L348.20,453.75 L348.70,453.73 L349.20,453.70 L349.70,453.68 L350.20,453.65 L350.70,453.63 L351.20,453.60 L351.70,453.57 L352.20,453.54 L352.70,453.51 L353.20,453.48 L353.70,453.45 L354.20,453.42 L354.70,453.39 L355.20,453.36 L355.70,453.33 L356.20,453.29 L356.70,453.26 L357.20,453.23 L357.70,453.19 L358.20,453.16 L358.70,453.12 L359.20,453.08 L359.70,453.05 L360.20,453.01 L360.70,452.97 L361.20,452.93 L361.70,452.89 L362.20,452.85 L362.70,452.81 L363.20,452.77 L363.70,452.73 L364.20,452.69 L364.70,452.64 L365.20,452.60 L365.70,452.55 L366.20,452.51 L366.70,452.46 L367.20,452.42 L367.70,452.37 L368.20,452.32 L368.70,452.28 L369.20,452.23 L369.70,452.18 L370.20,452.13 L370.70,452.08 L371.20,452.03 L371.70,451.97 L372.20,451.92 L372.70,451.87 L373.20,451.81 L373.70,451.76 L374.20,451.70 L374.70,451.65 L375.20,451.59 L375.70,451.53 L376.20,451.48 L376.70,451.42 L377.20,451.36 L377.70,451.30 L378.20,451.24 L378.70,451.18 L379.20,451.11 L379.70,451.05 L380.20,450.99 L380.70,450.92 L381.20,450.86 L381.70,450.79 L382.20,450.73 L382.70,450.66 L383.20,450.59 L383.70,450.52 L384.20,450.45 L384.70,450.38 L385.20,450.31 L385.70,450.24 L386.20,450.17 L386.70,450.10 L387.20,450.02 L387.70,449.95 L388.20,449.87 L388.70,449.80 L389.20,449.72 L389.70,449.64 L390.20,449.56 L390.70,449.48 L391.20,449.40 L391.70,449.32 L392.20,449.24 L392.70,449.16 L393.20,449.07 L393.70,448.99 L394.20,448.90 L394.70,448.82 L395.20,448.73 L395.70,448.64 L396.20,448.56 L396.70,448.47 L397.20,448.38 L397.70,448.28 L398.20,448.19 L398.70,448.10 L399.20,448.01 L399.70,447.91 L400.20,447.81 L400.70,447.72 L401.20,447.62 L401.70,447.52 L402.20,447.42 L402.70,447.32 L403.20,447.22 L403.70,447.12 L404.20,447.01 L404.70,446.91 L405.20,446.80 L405.70,446.70 L406.20,446.59 L406.70,446.48 L407.20,446.37 L407.70,446.26 L408.20,446.15 L408.70,446.03 L409.20,445.92 L409.70,445.80 L410.20,445.69 L410.70,445.57 L411.20,445.45 L411.70,445.33 L412.20,445.21 L412.70,445.09 L413.20,444.96 L413.70,444.84 L414.20,444.71 L414.70,444.59 L415.20,444.46 L415.70,444.33 L416.20,444.20 L416.70,444.06 L417.20,443.93 L417.70,443.79 L418.20,443.66 L418.70,443.52 L419.20,443.38 L419.70,443.24 L420.20,443.10 L420.70,442.96 L421.20,442.81 L421.70,442.66 L422.20,442.52 L422.70,442.37 L423.20,442.22 L423.70,442.06 L424.20,441.91 L424.70,441.75 L425.20,441.60 L425.70,441.44 L426.20,441.28 L426.70,441.12 L427.20,440.95 L427.70,440.79 L428.20,440.62 L428.70,440.45 L429.20,440.28 L429.70,440.11 L430.20,439.94 L430.70,439.76 L431.20,439.58 L431.70,439.40 L432.20,439.22 L432.70,439.04 L433.20,438.85 L433.70,438.66 L434.20,438.47 L434.70,438.28 L435.20,438.09 L435.70,437.89 L436.20,437.70 L436.70,437.50 L437.20,437.29 L437.70,437.09 L438.20,436.88 L438.70,436.68 L439.20,436.46 L439.70,436.25 L440.20,436.04 L440.70,435.82 L441.20,435.60 L441.70,435.37 L442.20,435.15 L442.70,434.92 L443.20,434.69 L443.70,434.46 L444.20,434.22 L444.70,433.98 L445.20,433.74 L445.70,433.50 L446.20,433.25 L446.70,433.00 L447.20,432.75 L447.70,432.49 L448.20,432.23 L448.70,431.97 L449.20,431.71 L449.70,431.44 L450.20,431.17 L450.70,430.90 L451.20,430.62 L451.70,430.34 L452.20,430.06 L452.70,429.77 L453.20,429.48 L453.70,429.19 L454.20,428.89 L454.70,428.59 L455.20,428.28 L455.70,427.97 L456.20,427.66 L456.70,427.35 L457.20,427.03 L457.70,426.70 L458.20,426.38 L458.70,426.04 L459.20,425.71 L459.70,425.37 L460.20,425.02 L460.70,424.68 L461.20,424.32 L461.70,423.97 L462.20,423.60 L462.70,423.24 L463.20,422.87 L463.70,422.49 L464.20,422.11 L464.70,421.73 L465.20,421.33 L465.70,420.94 L466.20,420.54 L466.70,420.13 L467.20,419.72 L467.70,419.31 L468.20,418.88 L468.70,418.46 L469.20,418.02 L469.70,417.58 L470.20,417.14 L470.70,416.69 L471.20,416.23 L471.70,415.77 L472.20,415.30 L472.70,414.83 L473.20,414.34 L473.70,413.86 L474.20,413.36 L474.70,412.86 L475.20,412.35 L475.70,411.84 L476.20,411.31 L476.70,410.78 L477.20,410.25 L477.70,409.70 L478.20,409.15 L478.70,408.59 L479.20,408.02 L479.70,407.45 L480.20,406.86 L480.70,406.27 L481.20,405.67 L481.70,405.06 L482.20,404.44 L482.70,403.81 L483.20,403.18 L483.70,402.53 L484.20,401.88 L484.70,401.21 L485.20,400.54 L485.70,399.86 L486.20,399.16 L486.70,398.46 L487.20,397.74 L487.70,397.02 L488.20,396.28 L488.70,395.54 L489.20,394.78 L489.70,394.01 L490.20,393.23 L490.70,392.43 L491.20,391.63 L491.70,390.81 L492.20,389.98 L492.70,389.14 L493.20,388.28 L493.70,387.41 L494.20,386.53 L494.70,385.64 L495.20,384.73 L495.70,383.80 L496.20,382.86 L496.70,381.91 L497.20,380.94 L497.70,379.96 L498.20,378.96 L498.70,377.95 L499.20,376.91 L499.70,375.87 L500.20,374.80 L500.70,373.72 L501.20,372.62 L501.70,371.51 L502.20,370.37 L502.70,369.22 L503.20,368.05 L503.70,366.86 L504.20,365.65 L504.70,364.42 L505.20,363.17 L505.70,361.90 L506.20,360.60 L506.70,359.29 L507.20,357.96 L507.70,356.60 L508.20,355.22 L508.70,353.82 L509.20,352.39 L509.70,350.94 L510.20,349.47 L510.70,347.97 L511.20,346.45 L511.70,344.90 L512.20,343.32 L512.70,341.72 L513.20,340.09 L513.70,338.43 L514.20,336.75 L514.70,335.04 L515.20,333.29 L515.70,331.52 L516.20,329.72 L516.70,327.89 L517.20,326.03 L517.70,324.13 L518.20,322.20 L518.70,320.25 L519.20,318.25 L519.70,316.23 L520.20,314.17 L520.70,312.07 L521.20,309.94 L521.70,307.77 L522.20,305.57 L522.70,303.33 L523.20,301.06 L523.70,298.74 L524.20,296.39 L524.70,293.99 L525.20,291.56 L525.70,289.09 L526.20,286.58 L526.70,284.02 L527.20,281.43 L527.70,278.79 L528.20,276.11 L528.70,273.39 L529.20,270.62 L529.70,267.81 L530.20,264.96 L530.70,262.06 L531.20,259.12 L531.70,256.13 L532.20,253.10 L532.70,250.03 L533.20,246.90 L533.70,243.74 L534.20,240.52 L534.70,237.26 L535.20,233.96 L535.70,230.61 L536.20,227.22 L536.70,223.78 L537.20,220.29 L537.70,216.77 L538.20,213.20 L538.70,209.58 L539.20,205.93 L539.70,202.23 L540.20,198.49 L540.70,194.71 L541.20,190.89 L541.70,187.04 L542.20,183.15 L542.70,179.23 L543.20,175.27 L543.70,171.28 L544.20,167.26 L544.70,163.22 L545.20,159.15 L545.70,155.05 L546.20,150.94 L546.70,146.81 L547.20,142.67 L547.70,138.51 L548.20,134.34 L548.70,130.17 L549.20,126.00 L549.70,121.83 L550.20,117.67 L550.70,113.52 L551.20,109.38 L551.70,105.26 L552.20,101.17 L552.70,97.10 L553.20,93.07 L553.70,89.08 L554.20,85.13 L554.70,81.23 L555.20,77.38 L555.70,73.60 L556.20,69.88 L556.70,66.23 L557.20,62.66 L557.70,59.18 L558.20,55.78 L558.70,52.48 L559.20,49.28 L559.70,46.19 L560.20,43.21 L560.70,40.35 L561.20,37.62 L561.70,35.01 L562.20,32.54 L562.70,30.22 L563.20,28.03 L563.70,26.00 L564.20,24.12 L564.70,22.39 L565.20,20.83 L565.70,19.44 L566.20,18.21 L566.70,17.16 L567.20,16.28 L567.70,15.57 L568.20,15.05 L568.70,14.70 L569.20,14.53 L569.70,14.54 L570.20,14.73 L570.70,15.11 L571.20,15.65 L571.70,16.38 L572.20,17.28 L572.70,18.36 L573.20,19.60 L573.70,21.01 L574.20,22.59 L574.70,24.33 L575.20,26.22 L575.70,28.27 L576.20,30.47 L576.70,32.81 L577.20,35.29 L577.70,37.90 L578.20,40.64 L578.70,43.50 L579.20,46.48 L579.70,49.57 L580.20,52.77 L580.70,56.06 L581.20,59.45 L581.70,62.93 L582.20,66.49 L582.70,70.12 L583.20,73.83 L583.70,77.60 L584.20,81.43 L584.70,85.31 L585.20,89.24 L585.70,93.22 L586.20,97.23 L586.70,101.27 L587.20,105.35 L587.70,109.44 L588.20,113.56 L588.70,117.68 L589.20,121.82 L589.70,125.97 L590.20,130.11 L590.70,134.25 L591.20,138.39 L591.70,142.52 L592.20,146.64 L592.70,150.75 L593.20,154.83 L593.70,158.90 L594.20,162.95 L594.70,166.97 L595.20,170.96 L595.70,174.92 L596.20,178.86 L596.70,182.76 L597.20,186.63 L597.70,190.46 L598.20,194.25 L598.70,198.01 L599.20,201.73 L599.70,205.41 L600.20,209.05 L600.70,212.64 L601.20,216.20 L601.70,219.71 L602.20,223.18 L602.70,226.60 L603.20,229.98 L603.70,233.32 L604.20,236.61 L604.70,239.86 L605.20,243.06 L605.70,246.22 L606.20,249.34 L606.70,252.41 L607.20,255.43 L607.70,258.41 L608.20,261.35 L608.70,264.24 L609.20,267.09 L609.70,269.90 L610.20,272.67 L610.70,275.39 L611.20,278.07 L611.70,280.71 L612.20,283.31 L612.70,285.86 L613.20,288.38 L613.70,290.86 L614.20,293.29 L614.70,295.69 L615.20,298.05 L615.70,300.37 L616.20,302.66 L616.70,304.91 L617.20,307.12 L617.70,309.30 L618.20,311.44 L618.70,313.54 L619.20,315.62 L619.70,317.65 L620.20,319.66 L620.70,321.63 L621.20,323.57 L621.70,325.48 L622.20,327.36 L622.70,329.21 L623.20,331.02 L623.70,332.81 L624.20,334.57 L624.70,336.30 L625.20,338.00 L625.70,339.68 L626.20,341.32 L626.70,342.94 L627.20,344.54 L627.70,346.11 L628.20,347.65 L628.70,349.17 L629.20,350.66 L629.70,352.13 L630.20,353.58 L630.70,355.00 L631.20,356.40 L631.70,357.78 L632.20,359.14 L632.70,360.47 L633.20,361.79 L633.70,363.08 L634.20,364.35 L634.70,365.60 L635.20,366.84 L635.70,368.05 L636.20,369.24 L636.70,370.42 L637.20,371.58 L637.70,372.72 L638.20,373.84 L638.70,374.95 L639.20,376.03 L639.70,377.11 L640.20,378.16 L640.70,379.20 L641.20,380.22 L641.70,381.23 L642.20,382.22 L642.70,383.20 L643.20,384.16 L643.70,385.11 L644.20,386.05 L644.70,386.97 L645.20,387.87 L645.70,388.77 L646.20,389.65 L646.70,390.52 L647.20,391.37 L647.70,392.21 L648.20,393.04 L648.70,393.86 L649.20,394.67 L649.70,395.46 L650.20,396.24 L650.70,397.02 L651.20,397.78 L651.70,398.53 L652.20,399.27 L652.70,400.00 L653.20,400.71 L653.70,401.42 L654.20,402.12 L654.70,402.81 L655.20,403.49 L655.70,404.16 L656.20,404.82 L656.70,405.47 L657.20,406.11 L657.70,406.75 L658.20,407.37 L658.70,407.99 L659.20,408.60 L659.70,409.20 L660.20,409.79 L660.70,410.37 L661.20,410.95 L661.70,411.52 L662.20,412.08 L662.70,412.63 L663.20,413.18 L663.70,413.72 L664.20,414.25 L664.70,414.77 L665.20,415.29 L665.70,415.80 L666.20,416.31" fill="none" stroke="#f00" stroke-width="3.0" stroke-linejoin="round" stroke-linecap="round" stroke-dasharray="13.9 20.325"/>
<path d="M298.4,84.2 H351.8" stroke="#000" stroke-width="3.0" stroke-linecap="round"/>
<path d="M298.4,113.8 H353" stroke="#f00" stroke-width="3.0" stroke-linecap="round" stroke-dasharray="14.6 19.6"/>
<text transform="translate(358.2,92.6) scale(1,1.045)" font-size="21.45">Unit cell</text>
<text transform="translate(358.2,122.0) scale(1,1.045)" font-size="21.4">3 x 3 array</text>
<path d="M280.40,306.80 Q269.64,222.71 208.60,191.30" fill="none" stroke="#000" stroke-width="1.8"/>
<path d="M200.6,187.5 L215.0,190.0 L211.0,197.0 Z" fill="#000"/>
<path d="M418.20,301.20 Q458.78,197.39 538.14,153.46" fill="none" stroke="#f00" stroke-width="2" stroke-dasharray="12.2 11.1"/>
<path d="M546.8,149.0 L533.3,150.0 L538.1,157.0 Z" fill="#f00"/>
<defs><g id="cellpat" fill="none" stroke-linejoin="miter" stroke-linecap="butt">
<path d="M30.2,15.600000000000001 V10.3 H10.3 V30.2 H15.600000000000001"/>
<path d="M39.800000000000004,15.600000000000001 V10.3 H59.7 V30.2 H54.400000000000006"/>
<path d="M30.2,54.400000000000006 V59.7 H10.3 V39.800000000000004 H15.600000000000001"/>
<path d="M39.800000000000004,54.400000000000006 V59.7 H59.7 V39.800000000000004 H54.400000000000006"/>
<polygon points="26.40,20.90 23.45,26.01 17.55,26.01 14.60,20.90 17.55,15.79 23.45,15.79"/>
<polygon points="26.40,49.10 23.45,54.21 17.55,54.21 14.60,49.10 17.55,43.99 23.45,43.99"/>
<polygon points="55.40,20.90 52.45,26.01 46.55,26.01 43.60,20.90 46.55,15.79 52.45,15.79"/>
<polygon points="55.40,49.10 52.45,54.21 46.55,54.21 43.60,49.10 46.55,43.99 52.45,43.99"/>
<path d="M24.16,24.56 L45.84,45.44 M45.84,24.56 L24.16,45.44"/>
</g></defs>
<g transform="translate(248.15,309.35) scale(0.9943)">
<rect x="-0.5" y="-0.5" width="71" height="71" fill="#efefe6"/>
<rect x="0" y="0" width="70" height="70" fill="#fdfd08"/>
<rect x="0" y="0" width="1.2" height="70" fill="#d6d620"/>
<rect x="0" y="68.9" width="70" height="1.1" fill="#e0e020"/>
<rect x="4.35" y="3.55" width="61.2" height="62.4" fill="#fff"/>
<use href="#cellpat" stroke="#dede20" stroke-width="2.0" transform="translate(-0.25,0.2)"/>
<use href="#cellpat" stroke="#f8f810" stroke-width="1.55" transform="translate(0.15,-0.1)"/>
<path d="M0.2,33.3 L5.2,33.0 L2.9,36.6 Z" fill="#0a4cf0"/>
<path d="M33.6,64.8 L37.6,67.2 L34.0,69.8 Z" fill="#0a4cf0"/>
<rect x="37.4" y="64.9" width="1.3" height="0.9" fill="#77774a"/>
<rect x="5.2" y="31.6" width="1.2" height="0.9" fill="#9a9a6a"/>
</g>
<rect x="363.95" y="304.5" width="107.3" height="107.3" fill="#8a8a28"/>
<g transform="translate(364.30,304.85) scale(0.5076)">
<rect x="0.85" y="0.85" width="68.3" height="68.3" fill="#e6e614"/>
<rect x="5.0" y="5.0" width="60" height="60" fill="#fff"/>
<use href="#cellpat" stroke="#b4b424" stroke-width="2.6"/>
</g>
<g transform="translate(399.83,304.85) scale(0.5076)">
<rect x="0.85" y="0.85" width="68.3" height="68.3" fill="#e6e614"/>
<rect x="5.0" y="5.0" width="60" height="60" fill="#fff"/>
<use href="#cellpat" stroke="#b4b424" stroke-width="2.6"/>
</g>
<g transform="translate(435.37,304.85) scale(0.5076)">
<rect x="0.85" y="0.85" width="68.3" height="68.3" fill="#e6e614"/>
<rect x="5.0" y="5.0" width="60" height="60" fill="#fff"/>
<use href="#cellpat" stroke="#b4b424" stroke-width="2.6"/>
</g>
<g transform="translate(364.30,340.38) scale(0.5076)">
<rect x="0.85" y="0.85" width="68.3" height="68.3" fill="#e6e614"/>
<rect x="5.0" y="5.0" width="60" height="60" fill="#fff"/>
<use href="#cellpat" stroke="#b4b424" stroke-width="2.6"/>
</g>
<g transform="translate(399.83,340.38) scale(0.5076)">
<rect x="0.85" y="0.85" width="68.3" height="68.3" fill="#e6e614"/>
<rect x="5.0" y="5.0" width="60" height="60" fill="#fff"/>
<use href="#cellpat" stroke="#b4b424" stroke-width="2.6"/>
</g>
<g transform="translate(435.37,340.38) scale(0.5076)">
<rect x="0.85" y="0.85" width="68.3" height="68.3" fill="#e6e614"/>
<rect x="5.0" y="5.0" width="60" height="60" fill="#fff"/>
<use href="#cellpat" stroke="#b4b424" stroke-width="2.6"/>
</g>
<g transform="translate(364.30,375.92) scale(0.5076)">
<rect x="0.85" y="0.85" width="68.3" height="68.3" fill="#e6e614"/>
<rect x="5.0" y="5.0" width="60" height="60" fill="#fff"/>
<use href="#cellpat" stroke="#b4b424" stroke-width="2.6"/>
</g>
<g transform="translate(399.83,375.92) scale(0.5076)">
<rect x="0.85" y="0.85" width="68.3" height="68.3" fill="#e6e614"/>
<rect x="5.0" y="5.0" width="60" height="60" fill="#fff"/>
<use href="#cellpat" stroke="#b4b424" stroke-width="2.6"/>
</g>
<g transform="translate(435.37,375.92) scale(0.5076)">
<rect x="0.85" y="0.85" width="68.3" height="68.3" fill="#e6e614"/>
<rect x="5.0" y="5.0" width="60" height="60" fill="#fff"/>
<use href="#cellpat" stroke="#b4b424" stroke-width="2.6"/>
</g>
<path d="M362.10,321.02 H368.50 A3.2,3.3 0 0 1 362.10,321.02 Z" fill="#0a3fc4"/>
<path d="M363.40,321.52 H367.20" stroke="#2ea4f0" stroke-width="1.0" stroke-linecap="round"/>
<rect x="367.60" y="318.15" width="1.9" height="0.8" fill="#5e5e2c" transform="rotate(35 368.50 318.55)"/>
<rect x="384.30" y="335.25" width="2.3" height="0.8" fill="#5e5e2c"/>
<path d="M380.36,336.18 A3.3,3.1 0 0 1 380.36,342.38 Z" fill="#0a3fc4"/>
<path d="M380.96,337.68 V340.88" stroke="#2ea4f0" stroke-width="1.0" stroke-linecap="round"/>
<path d="M397.63,321.02 H404.03 A3.2,3.3 0 0 1 397.63,321.02 Z" fill="#0a3fc4"/>
<path d="M398.93,321.52 H402.73" stroke="#2ea4f0" stroke-width="1.0" stroke-linecap="round"/>
<rect x="403.13" y="318.15" width="1.9" height="0.8" fill="#5e5e2c" transform="rotate(35 404.03 318.55)"/>
<rect x="419.83" y="335.25" width="2.3" height="0.8" fill="#5e5e2c"/>
<path d="M415.89,336.18 A3.3,3.1 0 0 1 415.89,342.38 Z" fill="#0a3fc4"/>
<path d="M416.49,337.68 V340.88" stroke="#2ea4f0" stroke-width="1.0" stroke-linecap="round"/>
<path d="M433.17,321.02 H439.57 A3.2,3.3 0 0 1 433.17,321.02 Z" fill="#0a3fc4"/>
<path d="M434.47,321.52 H438.27" stroke="#2ea4f0" stroke-width="1.0" stroke-linecap="round"/>
<rect x="438.67" y="318.15" width="1.9" height="0.8" fill="#5e5e2c" transform="rotate(35 439.57 318.55)"/>
<rect x="455.37" y="335.25" width="2.3" height="0.8" fill="#5e5e2c"/>
<path d="M451.43,336.18 A3.3,3.1 0 0 1 451.43,342.38 Z" fill="#0a3fc4"/>
<path d="M452.03,337.68 V340.88" stroke="#2ea4f0" stroke-width="1.0" stroke-linecap="round"/>
<path d="M362.10,356.55 H368.50 A3.2,3.3 0 0 1 362.10,356.55 Z" fill="#0a3fc4"/>
<path d="M363.40,357.05 H367.20" stroke="#2ea4f0" stroke-width="1.0" stroke-linecap="round"/>
<rect x="367.60" y="353.68" width="1.9" height="0.8" fill="#5e5e2c" transform="rotate(35 368.50 354.08)"/>
<rect x="384.30" y="370.78" width="2.3" height="0.8" fill="#5e5e2c"/>
<path d="M380.36,371.72 A3.3,3.1 0 0 1 380.36,377.92 Z" fill="#0a3fc4"/>
<path d="M380.96,373.22 V376.42" stroke="#2ea4f0" stroke-width="1.0" stroke-linecap="round"/>
<path d="M397.63,356.55 H404.03 A3.2,3.3 0 0 1 397.63,356.55 Z" fill="#0a3fc4"/>
<path d="M398.93,357.05 H402.73" stroke="#2ea4f0" stroke-width="1.0" stroke-linecap="round"/>
<rect x="403.13" y="353.68" width="1.9" height="0.8" fill="#5e5e2c" transform="rotate(35 404.03 354.08)"/>
<rect x="419.83" y="370.78" width="2.3" height="0.8" fill="#5e5e2c"/>
<path d="M415.89,371.72 A3.3,3.1 0 0 1 415.89,377.92 Z" fill="#0a3fc4"/>
<path d="M416.49,373.22 V376.42" stroke="#2ea4f0" stroke-width="1.0" stroke-linecap="round"/>
<path d="M433.17,356.55 H439.57 A3.2,3.3 0 0 1 433.17,356.55 Z" fill="#0a3fc4"/>
<path d="M434.47,357.05 H438.27" stroke="#2ea4f0" stroke-width="1.0" stroke-linecap="round"/>
<rect x="438.67" y="353.68" width="1.9" height="0.8" fill="#5e5e2c" transform="rotate(35 439.57 354.08)"/>
<rect x="455.37" y="370.78" width="2.3" height="0.8" fill="#5e5e2c"/>
<path d="M451.43,371.72 A3.3,3.1 0 0 1 451.43,377.92 Z" fill="#0a3fc4"/>
<path d="M452.03,373.22 V376.42" stroke="#2ea4f0" stroke-width="1.0" stroke-linecap="round"/>
<path d="M362.10,392.08 H368.50 A3.2,3.3 0 0 1 362.10,392.08 Z" fill="#0a3fc4"/>
<path d="M363.40,392.58 H367.20" stroke="#2ea4f0" stroke-width="1.0" stroke-linecap="round"/>
<rect x="367.60" y="389.22" width="1.9" height="0.8" fill="#5e5e2c" transform="rotate(35 368.50 389.62)"/>
<rect x="384.30" y="406.32" width="2.3" height="0.8" fill="#5e5e2c"/>
<path d="M380.36,407.25 A3.3,3.1 0 0 1 380.36,413.45 Z" fill="#0a3fc4"/>
<path d="M380.96,408.75 V411.95" stroke="#2ea4f0" stroke-width="1.0" stroke-linecap="round"/>
<path d="M397.63,392.08 H404.03 A3.2,3.3 0 0 1 397.63,392.08 Z" fill="#0a3fc4"/>
<path d="M398.93,392.58 H402.73" stroke="#2ea4f0" stroke-width="1.0" stroke-linecap="round"/>
<rect x="403.13" y="389.22" width="1.9" height="0.8" fill="#5e5e2c" transform="rotate(35 404.03 389.62)"/>
<rect x="419.83" y="406.32" width="2.3" height="0.8" fill="#5e5e2c"/>
<path d="M415.89,407.25 A3.3,3.1 0 0 1 415.89,413.45 Z" fill="#0a3fc4"/>
<path d="M416.49,408.75 V411.95" stroke="#2ea4f0" stroke-width="1.0" stroke-linecap="round"/>
<path d="M433.17,392.08 H439.57 A3.2,3.3 0 0 1 433.17,392.08 Z" fill="#0a3fc4"/>
<path d="M434.47,392.58 H438.27" stroke="#2ea4f0" stroke-width="1.0" stroke-linecap="round"/>
<rect x="438.67" y="389.22" width="1.9" height="0.8" fill="#5e5e2c" transform="rotate(35 439.57 389.62)"/>
<rect x="455.37" y="406.32" width="2.3" height="0.8" fill="#5e5e2c"/>
<path d="M451.43,407.25 A3.3,3.1 0 0 1 451.43,413.45 Z" fill="#0a3fc4"/>
<path d="M452.03,408.75 V411.95" stroke="#2ea4f0" stroke-width="1.0" stroke-linecap="round"/>
</svg>
</body></html>
